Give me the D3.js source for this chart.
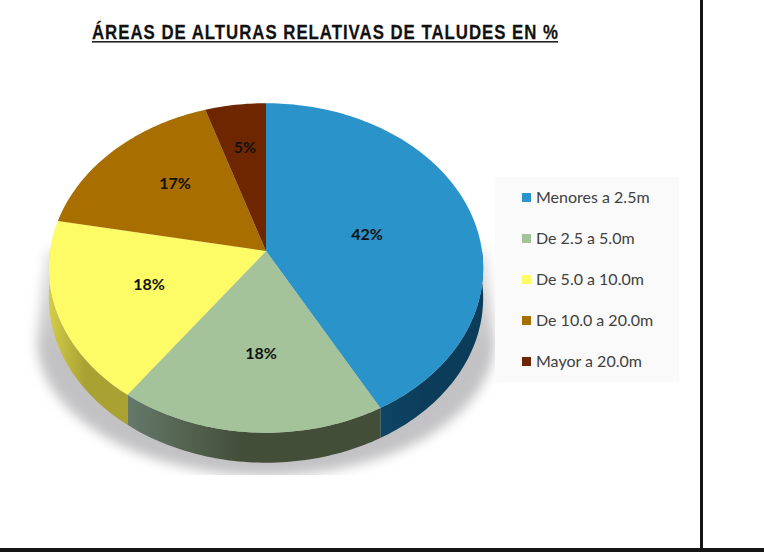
<!DOCTYPE html>
<html><head><meta charset="utf-8">
<script src="https://cdnjs.cloudflare.com/ajax/libs/d3/7.8.5/d3.min.js"></script>
<style>html,body{margin:0;padding:0;background:#fff}svg{display:block}</style></head>
<body><svg id="c" width="764" height="558"></svg>
<script>
const chartTitle = "ÁREAS DE ALTURAS RELATIVAS DE TALUDES EN %";
const categories = ["Menores a 2.5m","De 2.5 a 5.0m","De 5.0 a 10.0m","De 10.0 a 20.0m","Mayor a 20.0m"];
const values = [42,18,18,17,5];
const topColors = ["#2a93c9","#a4c39b","#fdfb66","#a86f00","#6e2600"];
const sideDark = ["#0b3c5a","#434e38","#a9a233","#5a3a00","#3a1400"];
const sideLight = ["#0f4566","#65796a","#d0cb48","#6b4500","#451800"];

const svg = d3.select("#c");
const defs = svg.append("defs");
const W = 217, CX = 266, AY = 251, B = 163, K = 0.103, DEPTH = 30;

// perspective projection of the unit pie disc on to the page
const sx = d3.scaleLinear().domain([-1,1]).range([CX-W+1,CX+W-1]);
const sy = d3.scaleLinear().domain([-1,1]).range([AY-B,AY+B]);
function proj(a, drop){
  const X=Math.sin(a), Y=-Math.cos(a), w=1-K*Y;
  return [sx(X/w), sy(Y/w)+(drop||0)];
}
function arcPts(a0,a1,drop){
  const n=Math.max(2,Math.ceil((a1-a0)/0.02));
  return d3.range(n+1).map(i=>proj(a0+(a1-a0)*i/n,drop));
}
const line=d3.line();
const pie=d3.pie().sort(null)(values);

// shadow
const blur=defs.append("filter").attr("id","blur").attr("x","-20%").attr("y","-20%").attr("width","140%").attr("height","140%");
blur.append("feGaussianBlur").attr("stdDeviation",6);
defs.append("clipPath").attr("id","shClip").append("rect").attr("x",0).attr("y",200).attr("width",700).attr("height",275);
const shG=defs.append("linearGradient").attr("id","shFill").attr("gradientUnits","userSpaceOnUse").attr("x1",0).attr("x2",0).attr("y1",250).attr("y2",350);
shG.append("stop").attr("offset","0%").attr("stop-color","#e4e4e4");
shG.append("stop").attr("offset","100%").attr("stop-color","#c2c2c4");
svg.append("g").attr("clip-path","url(#shClip)")
  .append("path").attr("d","M46 250L37 340A229 136 0 0 0 495 340L486 250Z")
  .attr("fill","url(#shFill)").attr("filter","url(#blur)");

// side wall: visible from the disc's widest points downward
const widest = Math.PI/2;
pie.forEach((d,i)=>{
  const a0=Math.max(d.startAngle,widest-0.02), a1=Math.min(d.endAngle,3*Math.PI/2+0.02);
  if(a1<=a0) return;
  const id="side"+i;
  const g=defs.append("linearGradient").attr("id",id).attr("gradientUnits","userSpaceOnUse")
    .attr("x1",proj(a1)[0]).attr("x2",proj(a0)[0]).attr("y1",0).attr("y2",0);
  g.append("stop").attr("offset","0%").attr("stop-color",sideLight[i]);
  g.append("stop").attr("offset","45%").attr("stop-color",sideDark[i]);
  g.append("stop").attr("offset","100%").attr("stop-color",sideDark[i]);
  const pts=arcPts(a0,a1,0).concat(arcPts(a0,a1,DEPTH).reverse());
  svg.append("path").attr("d",line(pts)+"Z").attr("fill",`url(#${id})`);
});

// top faces
pie.forEach((d,i)=>{
  const pts=[[sx(0),sy(0)]].concat(arcPts(d.startAngle,d.endAngle,0));
  svg.append("path").attr("d",line(pts)+"Z").attr("fill",topColors[i]);
});

// slice labels
const labelPos=[[367,234],[261,353],[149,284],[175,183],[245,147]];
svg.append("g").selectAll("text").data(values).join("text")
  .attr("x",(d,i)=>labelPos[i][0]).attr("y",(d,i)=>labelPos[i][1]+5.5)
  .attr("text-anchor","middle").attr("font-family","Lato,sans-serif").attr("font-weight",700)
  .attr("font-size",16).attr("fill","#111").text(d=>d+"%");

// legend
const ly=d3.scalePoint().domain(categories).range([197,361]);
svg.append("rect").attr("x",495).attr("y",177).attr("width",184).attr("height",205).attr("fill","#fafafa");
const lg=svg.append("g").selectAll("g").data(categories).join("g").attr("transform",d=>`translate(0,${ly(d)})`);
lg.append("rect").attr("x",522).attr("y",-4).attr("width",9).attr("height",9).attr("fill",(d,i)=>topColors[i]);
lg.append("text").attr("x",536).attr("y",6).attr("font-family","Lato,sans-serif").attr("font-size",16)
  .attr("fill","#404040").text(d=>d);

// title
const tg=svg.append("g").attr("transform","translate(92,39) scale(0.8,1)");
tg.append("text").attr("x",0).attr("y",0).attr("textLength",466/0.8).attr("lengthAdjust","spacing")
  .attr("font-family","'Liberation Sans',sans-serif").attr("font-weight",700)
  .attr("font-size",21).attr("fill","#111").attr("stroke","#111").attr("stroke-width",0.25).text(chartTitle);
svg.append("rect").attr("x",92).attr("y",41).attr("width",466).attr("height",1.6).attr("fill","#222");

// frame
svg.append("rect").attr("x",700).attr("y",0).attr("width",3).attr("height",550).attr("fill","#151515");
svg.append("rect").attr("x",0).attr("y",548).attr("width",764).attr("height",4).attr("fill","#151515");
</script></body></html>
